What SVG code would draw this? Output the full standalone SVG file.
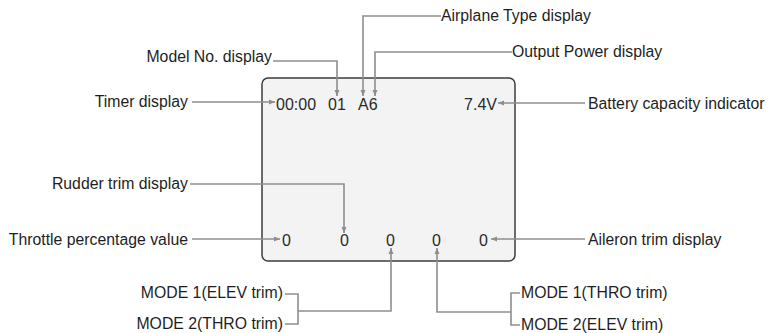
<svg xmlns="http://www.w3.org/2000/svg" width="770" height="333" viewBox="0 0 770 333">
<style>
.lbl{font-family:"Liberation Sans",Arial,sans-serif;font-size:15.8px;fill:#1e1e1e}
.scr{font-family:"Liberation Sans",Arial,sans-serif;font-size:16px;fill:#2a2a2a}
.end{text-anchor:end}
.ln{fill:none;stroke:#8e8e8e;stroke-width:1.6}
.arr{marker-end:url(#ah)}
</style>
<defs>
<marker id="ah" markerUnits="userSpaceOnUse" markerWidth="7" markerHeight="6" refX="6" refY="3" orient="auto">
<path d="M0,0.5 L6,3 L0,5.5 z" fill="#8e8e8e"/>
</marker>
</defs>
<rect width="770" height="333" fill="#ffffff"/>
<g id="screen">
<rect x="262" y="78" width="253" height="183" rx="6" ry="6" fill="#f3f3f3" stroke="#3c3c3c" stroke-width="1.5"/>
<text class="scr" x="276" y="110">00:00</text>
<text class="scr" x="328" y="110">01</text>
<text class="scr" x="358" y="110">A6</text>
<text class="scr end" x="497" y="110">7.4V</text>
<text class="scr" x="282" y="246">0</text>
<text class="scr" x="340" y="246">0</text>
<text class="scr" x="386" y="246">0</text>
<text class="scr" x="432" y="246">0</text>
<text class="scr" x="479" y="246">0</text>
</g>
<g id="connectors">
<path class="ln arr" d="M441,16 H363 V96"/>
<path class="ln arr" d="M512,52 H375 V96"/>
<path class="ln arr" d="M273,61 H337 V96"/>
<path class="ln arr" d="M192,102 H275"/>
<path class="ln arr" d="M585,103 H498"/>
<path class="ln arr" d="M190,184 H344 V233"/>
<path class="ln arr" d="M192,239 H280"/>
<path class="ln arr" d="M585,239 H491"/>
<path class="ln" d="M285,294 H298 V324 H285"/>
<path class="ln arr" d="M298,311 H391 V248"/>
<path class="ln" d="M520,293 H511 V325 H520"/>
<path class="ln arr" d="M511,312 H437 V248"/>
</g>
<g id="airplane-type"><text class="lbl" x="441" y="21">Airplane Type display</text></g>
<g id="output-power"><text class="lbl" x="512" y="57">Output Power display</text></g>
<g id="model-no"><text class="lbl end" x="272" y="62">Model No. display</text></g>
<g id="timer"><text class="lbl end" x="188" y="107">Timer display</text></g>
<g id="battery"><text class="lbl" x="588" y="109">Battery capacity indicator</text></g>
<g id="rudder"><text class="lbl end" x="188" y="189">Rudder trim display</text></g>
<g id="throttle"><text class="lbl end" x="188" y="245">Throttle percentage value</text></g>
<g id="aileron"><text class="lbl" x="588" y="245">Aileron trim display</text></g>
<g id="mode-left">
<text class="lbl end" x="283" y="298">MODE 1(ELEV trim)</text>
<text class="lbl end" x="283" y="329">MODE 2(THRO trim)</text>
</g>
<g id="mode-right">
<text class="lbl" x="521" y="298">MODE 1(THRO trim)</text>
<text class="lbl" x="521" y="330">MODE 2(ELEV trim)</text>
</g>
</svg>
